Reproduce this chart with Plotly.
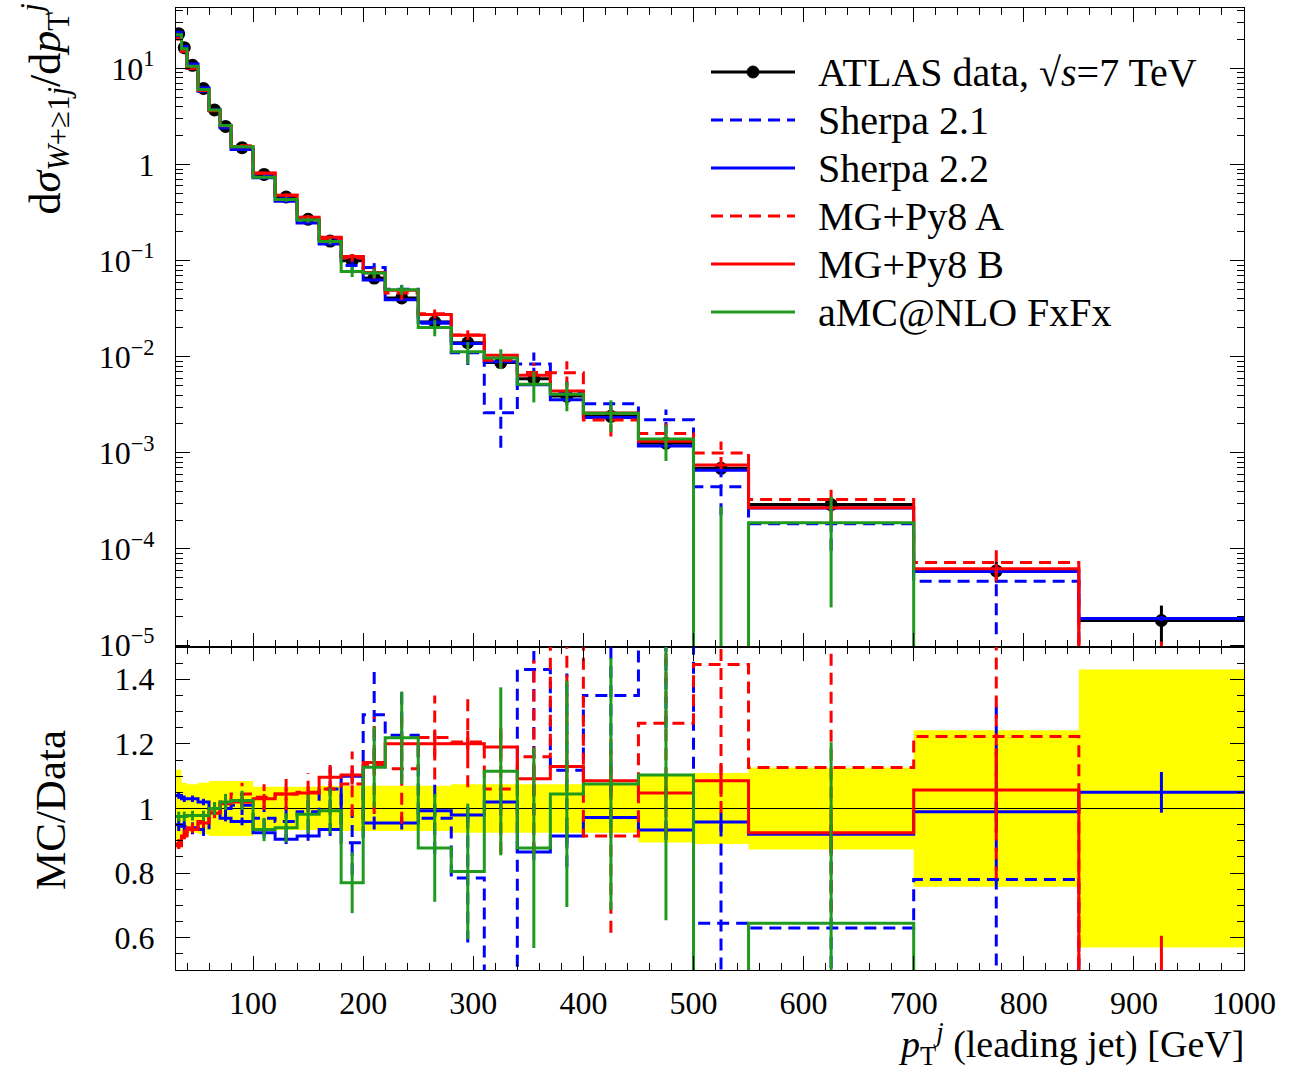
import plotly.graph_objects as go
from plotly.subplots import make_subplots

# ---------------- binning and measured cross sections ----------------
edges = [30, 35, 40, 50, 60, 70, 80, 100, 120, 140, 160, 180, 200, 220, 250,
         280, 310, 340, 370, 400, 450, 500, 550, 700, 850, 1000]

data = [23.0, 16.5, 10.8, 6.2, 3.7, 2.5, 1.5, 0.79, 0.46, 0.27, 0.16, 0.100,
        0.066, 0.041, 0.023, 0.014, 0.0087, 0.0059, 0.0039, 0.0024, 0.00126,
        0.00069, 0.00029, 5.9e-5, 1.8e-5]
data_rel_err = [0.12, 0.08, 0.075, 0.08, 0.085, 0.085, 0.085, 0.067, 0.067,
                0.067, 0.07, 0.07, 0.07, 0.07, 0.07, 0.075, 0.075, 0.075,
                0.075, 0.075, 0.105, 0.11, 0.127, 0.242, 0.43]

# ---------------- MC / data ratios and their uncertainties ----------------
sherpa21_ratio = [0.95, 0.945, 0.94, 0.935, 1.0, 1.0, 1.01, 0.97, 0.96, 0.99,
                  1.06, 0.894, 1.29, 1.227, 0.97, 0.785, 0.30, 1.43, 1.118,
                  1.35, 1.75, 0.645, 0.63, 0.78, 0.0]
sherpa21_err = [0.02, 0.02, 0.02, 0.02, 0.02, 0.025, 0.03, 0.04, 0.05, 0.06,
                0.07, 0.10, 0.14, 0.14, 0.11, 0.20, 0.17, 0.45, 0.30, 0.30,
                0.50, 0.32, 0.30, 0.56, 0.0]

sherpa22_ratio = [1.04, 1.03, 1.03, 1.02, 1.0, 0.97, 0.96, 0.925, 0.905,
                  0.915, 0.935, 1.10, 0.955, 0.955, 0.993, 0.98, 1.02, 0.865,
                  0.915, 0.972, 0.933, 0.958, 0.92, 0.99, 1.05]
sherpa22_err = [0.01, 0.01, 0.01, 0.01, 0.01, 0.01, 0.012, 0.015, 0.015,
                0.015, 0.02, 0.02, 0.02, 0.02, 0.02, 0.025, 0.025, 0.025,
                0.025, 0.03, 0.03, 0.03, 0.03, 0.03, 0.063]

mgA_ratio = [0.89, 0.92, 0.94, 0.96, 0.99, 1.02, 1.045, 1.035, 1.045, 1.05,
             1.06, 1.076, 1.133, 1.123, 1.22, 1.206, 1.06, 1.16, 1.75, 0.915,
             1.264, 1.446, 1.127, 1.223, 0.0]
mgA_err = [0.015, 0.015, 0.015, 0.02, 0.02, 0.025, 0.035, 0.04, 0.05, 0.06,
           0.08, 0.10, 0.15, 0.17, 0.13, 0.14, 0.20, 0.30, 0.55, 0.30, 0.35,
           0.46, 0.45, 0.44, 0.0]

mgB_ratio = [0.885, 0.915, 0.935, 0.955, 0.985, 1.015, 1.02, 1.03, 1.045,
             1.048, 1.097, 1.104, 1.142, 1.20, 1.20, 1.20, 1.19, 1.092, 1.13,
             1.086, 1.048, 1.086, 0.925, 1.057, 0.0]
mgB_err = [0.01, 0.01, 0.01, 0.01, 0.01, 0.01, 0.015, 0.015, 0.02, 0.02,
           0.025, 0.03, 0.035, 0.035, 0.04, 0.04, 0.045, 0.05, 0.05, 0.05,
           0.05, 0.05, 0.06, 0.13, 0.606]

fxfx_ratio = [0.975, 0.975, 0.978, 0.978, 1.0, 1.02, 1.025, 0.935, 0.94,
              0.982, 0.993, 0.77, 1.128, 1.219, 0.878, 0.805, 1.115, 0.878,
              1.045, 1.076, 1.104, 0.0, 0.645, 0.0, 0.0]
fxfx_err = [0.015, 0.015, 0.015, 0.015, 0.02, 0.025, 0.03, 0.036, 0.045,
            0.06, 0.07, 0.094, 0.125, 0.143, 0.167, 0.21, 0.26, 0.31, 0.35,
            0.39, 0.45, 0.40, 0.56, 0.0, 0.0]

x_ticks = [100, 200, 300, 400, 500, 600, 700, 800, 900, 1000]
y_ticks_top = [1e-5, 1e-4, 1e-3, 1e-2, 1e-1, 1, 10]
y_ticktext_top = ["10<sup>−5</sup>", "10<sup>−4</sup>", "10<sup>−3</sup>",
                  "10<sup>−2</sup>", "10<sup>−1</sup>", "1", "10<sup>1</sup>"]
y_ticks_ratio = [0.6, 0.8, 1.0, 1.2, 1.4]
y_ticktext_ratio = ["0.6", "0.8", "1", "1.2", "1.4"]

BLUE, RED, GREEN, YELLOW = "#0000ff", "#ff0000", "#1f9a1f", "#ffff00"
DASH = "12px,7px"
FONT = "Liberation Serif"
FLOOR = 1e-12  # stand-in for empty bins on the logarithmic axis

centers = [(a + b) / 2 for a, b in zip(edges[:-1], edges[1:])]
halfw = [(b - a) / 2 for a, b in zip(edges[:-1], edges[1:])]


def step(vals, floor=None):
    v = [max(x, floor) for x in vals] if floor else list(vals)
    return list(edges), v + [v[-1]]


def err_segments(vals, errs, floor=None):
    xs, ys = [], []
    for c, v, e in zip(centers, vals, errs):
        if e <= 0:
            continue
        lo, hi = v - e, v + e
        if floor:
            lo = max(lo, floor)
        xs += [c, c, None]
        ys += [lo, hi, None]
    return xs, ys


fig = make_subplots(rows=2, cols=1, shared_xaxes=True, vertical_spacing=0,
                    row_heights=[0.6642, 0.3358])

# ---------------- upper panel: differential cross section ----------------
fig.add_trace(go.Scatter(
    x=centers, y=data, mode="markers",
    marker=dict(color="black", size=13),
    error_x=dict(type="data", array=halfw, color="black", thickness=3, width=0),
    error_y=dict(type="data", array=[d * e for d, e in zip(data, data_rel_err)],
                 color="black", thickness=3, width=0),
    showlegend=False), row=1, col=1)

series = [
    (sherpa21_ratio, sherpa21_err, BLUE, DASH),
    (sherpa22_ratio, sherpa22_err, BLUE, "solid"),
    (mgA_ratio, mgA_err, RED, DASH),
    (mgB_ratio, mgB_err, RED, "solid"),
    (fxfx_ratio, fxfx_err, GREEN, "solid"),
]

for ratio, err, color, dash in series:
    vals = [d * r for d, r in zip(data, ratio)]
    errs = [d * e for d, e in zip(data, err)]
    sx, sy = step(vals, FLOOR)
    fig.add_trace(go.Scatter(x=sx, y=sy, mode="lines", line_shape="hv",
                             line=dict(color=color, width=3, dash=dash),
                             showlegend=False), row=1, col=1)
    ex, ey = err_segments(vals, errs, FLOOR)
    fig.add_trace(go.Scatter(x=ex, y=ey, mode="lines",
                             line=dict(color=color, width=3, dash=dash),
                             showlegend=False), row=1, col=1)

# ---------------- lower panel: MC / data ----------------
band_x, band_up, band_lo = [], [], []
for a, b, e in zip(edges[:-1], edges[1:], data_rel_err):
    band_x += [a, b]
    band_up += [1 + e, 1 + e]
    band_lo += [1 - e, 1 - e]
fig.add_trace(go.Scatter(x=band_x + band_x[::-1], y=band_up + band_lo[::-1],
                         mode="lines", fill="toself", fillcolor=YELLOW,
                         line=dict(width=0, color=YELLOW), showlegend=False),
              row=2, col=1)
fig.add_trace(go.Scatter(x=[edges[0], edges[-1]], y=[1, 1], mode="lines",
                         line=dict(color="black", width=1.2), showlegend=False),
              row=2, col=1)

for ratio, err, color, dash in series:
    sx, sy = step(ratio)
    fig.add_trace(go.Scatter(x=sx, y=sy, mode="lines", line_shape="hv",
                             line=dict(color=color, width=3, dash=dash),
                             showlegend=False), row=2, col=1)
    ex, ey = err_segments(ratio, err)
    fig.add_trace(go.Scatter(x=ex, y=ey, mode="lines",
                             line=dict(color=color, width=3, dash=dash),
                             showlegend=False), row=2, col=1)

# ---------------- axes ----------------
axis_common = dict(showline=True, linecolor="black", linewidth=1.2,
                   mirror="allticks", ticks="inside", tickcolor="black",
                   tickwidth=1.3, showgrid=False, zeroline=False)

for r in (1, 2):
    fig.update_xaxes(range=[30, 1000], tickmode="array", tickvals=x_ticks,
                     ticklen=14,
                     minor=dict(dtick=20, tick0=0, ticks="inside", ticklen=7,
                                tickcolor="black", tickwidth=1.3, showgrid=False),
                     showticklabels=(r == 2), row=r, col=1, **axis_common)

fig.update_xaxes(ticktext=[str(v) for v in x_ticks],
                 tickfont=dict(family=FONT, size=32, color="black"),
                 ticklabelstandoff=4, row=2, col=1)

fig.update_yaxes(type="log", range=[-5.02, 1.63], tickmode="array",
                 tickvals=y_ticks_top, ticktext=y_ticktext_top, ticklen=14,
                 minor=dict(dtick="D1", ticks="inside", ticklen=7,
                            tickcolor="black", tickwidth=1.3, showgrid=False),
                 tickfont=dict(family=FONT, size=32, color="black"),
                 ticklabelstandoff=14, row=1, col=1, **axis_common)

fig.update_yaxes(range=[0.5, 1.5], tickmode="array", tickvals=y_ticks_ratio,
                 ticktext=y_ticktext_ratio, ticklen=14,
                 minor=dict(dtick=0.05, tick0=0.5, ticks="inside", ticklen=7,
                            tickcolor="black", tickwidth=1.3, showgrid=False),
                 tickfont=dict(family=FONT, size=32, color="black"),
                 ticklabelstandoff=14, row=2, col=1, **axis_common)

# ---------------- titles and legend (paper coordinates) ----------------
W, H = 1289, 1073
ML, MR, MT, MB = 176, 45, 8, 103
PW, PH = W - ML - MR, H - MT - MB


def px(x):
    return (x - ML) / PW


def py(y):
    return (H - MB - y) / PH


annotations = [
    dict(text="d<i>σ</i><sub><i>W</i>+≥1<i>j</i></sub>/d<i>p</i><sub>T</sub><sup><i>j</i></sup>",
         x=px(46), y=py(2), xref="paper", yref="paper", xanchor="center",
         yanchor="top", textangle=-90, showarrow=False,
         font=dict(family=FONT, size=44, color="black")),
    dict(text="MC/Data", x=px(50), y=py(810), xref="paper", yref="paper",
         xanchor="center", yanchor="middle", textangle=-90, showarrow=False,
         font=dict(family=FONT, size=43, color="black")),
    dict(text="<i>p</i><sub>T</sub><sup><i>j</i></sup> (leading jet) [GeV]",
         x=px(1246), y=py(1044), xref="paper", yref="paper", xanchor="right",
         yanchor="middle", showarrow=False,
         font=dict(family=FONT, size=38, color="black")),
]

legend_items = [
    ("ATLAS data, √<i>s</i>=7 TeV", "black", "solid"),
    ("Sherpa 2.1", BLUE, DASH),
    ("Sherpa 2.2", BLUE, "solid"),
    ("MG+Py8 A", RED, DASH),
    ("MG+Py8 B", RED, "solid"),
    ("aMC@NLO FxFx", GREEN, "solid"),
]
shapes = []
for i, (label, color, dash) in enumerate(legend_items):
    yrow = 72 + 48 * i
    shapes.append(dict(type="line", xref="paper", yref="paper",
                       x0=px(711), x1=px(795), y0=py(yrow), y1=py(yrow),
                       line=dict(color=color, width=3, dash=dash)))
    if i == 0:
        shapes.append(dict(type="circle", xref="paper", yref="paper",
                           xsizemode="pixel", ysizemode="pixel",
                           xanchor=px(753), yanchor=py(yrow),
                           x0=-6, x1=6, y0=-6, y1=6,
                           fillcolor="black", line=dict(color="black", width=1)))
    annotations.append(dict(text=label, x=px(816), y=py(yrow), xref="paper",
                            yref="paper", xanchor="left", yanchor="middle",
                            showarrow=False,
                            font=dict(family=FONT, size=40, color="black")))

fig.update_layout(width=W, height=H, margin=dict(l=ML, r=MR, t=MT, b=MB),
                  paper_bgcolor="white", plot_bgcolor="white",
                  showlegend=False, annotations=annotations, shapes=shapes,
                  font=dict(family=FONT, color="black"))

fig.write_html("out.html")
